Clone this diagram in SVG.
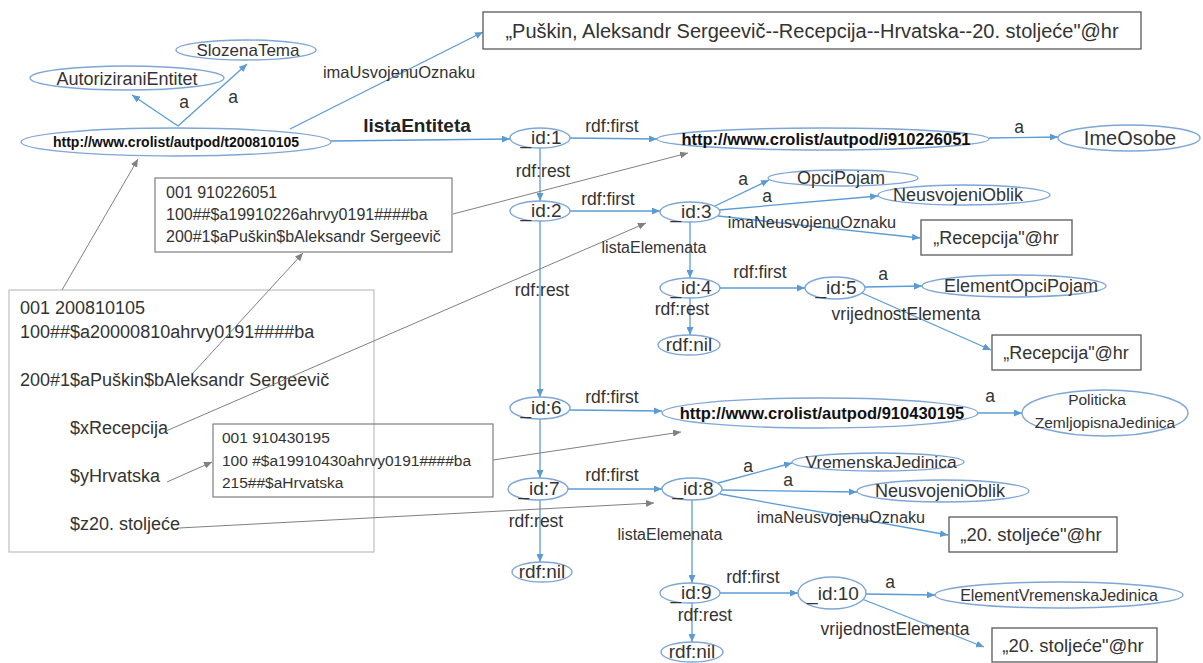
<svg xmlns="http://www.w3.org/2000/svg" width="1203" height="663" viewBox="0 0 1203 663">
<style>
text{font-family:"Liberation Sans",Arial,sans-serif;fill:#333;}
.n{fill:#fff;stroke:#7ea6d6;stroke-width:1.4;}
.b{fill:#fff;stroke:#595959;stroke-width:1.3;}
.r{fill:none;stroke:#7f7f7f;stroke-width:1.2;}
.g{fill:none;stroke:#bfbfbf;stroke-width:1.2;}
.e{fill:none;stroke:#5b9bd5;stroke-width:1.3;marker-end:url(#ab);}
.gr{fill:none;stroke:#808080;stroke-width:1;marker-end:url(#ag);}
.t{font-size:18px;text-anchor:middle;}
.id{font-size:19px;text-anchor:middle;}
.u{font-weight:bold;text-anchor:middle;font-size:16.5px;fill:#111;}
.l{font-size:17.5px;text-anchor:middle;}
.m{font-size:18px;}
</style>
<defs>
<marker id="ab" markerWidth="8" markerHeight="7" refX="8" refY="3.5" orient="auto" markerUnits="userSpaceOnUse"><path d="M0,0 L8,3.5 L0,7 z" fill="#5b9bd5"/></marker>
<marker id="ag" markerWidth="8" markerHeight="7" refX="8" refY="3.5" orient="auto" markerUnits="userSpaceOnUse"><path d="M0,0 L8,3.5 L0,7 z" fill="#808080"/></marker>
</defs>

<g id="record-main">
<rect class="g" x="9" y="290" width="365" height="262"/>
<text class="m" x="20" y="314">001 200810105</text>
<text class="m" x="20" y="338">100##$a20000810ahrvy0191####ba</text>
<text class="m" x="20" y="386">200#1$aPuškin$bAleksandr  Sergeevič</text>
<text class="m" x="70" y="434">$xRecepcija</text>
<text class="m" x="70" y="482">$yHrvatska</text>
<text class="m" x="70" y="530">$z20. stoljeće</text>
</g>
<g id="record-910226051">
<rect class="r" x="155" y="178" width="297" height="74"/>
<text x="166" y="198" style="font-size:16px">001 910226051</text>
<text x="166" y="220" style="font-size:16px">100##$a19910226ahrvy0191####ba</text>
<text x="166" y="242" style="font-size:16px">200#1$aPuškin$bAleksandr Sergeevič</text>
</g>
<g id="record-910430195">
<rect class="r" x="213" y="424" width="280" height="73"/>
<text x="222" y="443" style="font-size:15.5px">001 910430195</text>
<text x="222" y="466" style="font-size:15.5px">100 #$a19910430ahrvy0191####ba</text>
<text x="222" y="488" style="font-size:15.5px">215##$aHrvatska</text>
</g>

<g id="connectors">
<line class="e" x1="178" y1="126" x2="132" y2="95"/>
<line class="e" x1="178" y1="126" x2="247" y2="64"/>
<line class="e" x1="290" y1="129" x2="483" y2="32"/>
<line class="e" x1="331" y1="141" x2="510" y2="139"/>
<line class="e" x1="570" y1="138" x2="657" y2="139"/>
<line class="e" x1="989" y1="138" x2="1058" y2="137"/>
<line class="e" x1="540" y1="148" x2="540" y2="201"/>
<line class="e" x1="570" y1="211" x2="660" y2="211"/>
<line class="e" x1="715" y1="206" x2="769" y2="180"/>
<line class="e" x1="719" y1="210" x2="878" y2="196"/>
<line class="e" x1="718" y1="216" x2="920" y2="238"/>
<line class="e" x1="690" y1="222" x2="690" y2="278"/>
<line class="e" x1="720" y1="288" x2="805" y2="288"/>
<line class="e" x1="865" y1="287" x2="922" y2="286"/>
<line class="e" x1="862" y1="293" x2="991" y2="350"/>
<line class="e" x1="690" y1="298" x2="690" y2="335"/>
<line class="e" x1="540" y1="221" x2="540" y2="397"/>
<line class="e" x1="570" y1="410" x2="662" y2="411"/>
<line class="e" x1="978" y1="413" x2="1022" y2="413"/>
<line class="e" x1="540" y1="419" x2="540" y2="478"/>
<line class="e" x1="568" y1="489" x2="662" y2="489"/>
<line class="e" x1="718" y1="483" x2="792" y2="463"/>
<line class="e" x1="722" y1="490" x2="857" y2="492"/>
<line class="e" x1="720" y1="494" x2="948" y2="535"/>
<line class="e" x1="692" y1="500" x2="692" y2="583"/>
<line class="e" x1="540" y1="500" x2="540" y2="562"/>
<line class="e" x1="720" y1="593" x2="798" y2="593"/>
<line class="e" x1="866" y1="594" x2="935" y2="595"/>
<line class="e" x1="862" y1="599" x2="984" y2="647"/>
<line class="e" x1="692" y1="603" x2="692" y2="642"/>

<line class="gr" x1="62" y1="290" x2="138" y2="159"/>
<line class="gr" x1="193" y1="373" x2="303" y2="253"/>
<line class="gr" x1="453" y1="214" x2="688" y2="153"/>
<line class="gr" x1="166" y1="431" x2="646" y2="223"/>
<line class="gr" x1="167" y1="482" x2="212" y2="462"/>
<line class="gr" x1="493" y1="460" x2="681" y2="432"/>
<line class="gr" x1="179" y1="528" x2="654" y2="503"/>

<text class="l" x="184" y="108">a</text>
<text class="l" x="233" y="103">a</text>
<text class="l" x="399" y="78" style="font-size:16.5px">imaUsvojenuOznaku</text>
<text x="417" y="132" style="font-size:19px;font-weight:bold;text-anchor:middle;fill:#222">listaEntiteta</text>
<text class="l" x="612" y="132">rdf:first</text>
<text class="l" x="1019" y="133">a</text>
<text class="l" x="543" y="177">rdf:rest</text>
<text class="l" x="608" y="205">rdf:first</text>
<text class="l" x="743" y="185">a</text>
<text class="l" x="767" y="202">a</text>
<text class="l" x="812" y="228" style="font-size:16.3px">imaNeusvojenuOznaku</text>
<text class="l" x="654" y="253" style="font-size:16px">listaElemenata</text>
<text class="l" x="760" y="278">rdf:first</text>
<text class="l" x="883" y="280">a</text>
<text class="l" x="906" y="320">vrijednostElementa</text>
<text class="l" x="682" y="315">rdf:rest</text>
<text class="l" x="542" y="296">rdf:rest</text>
<text class="l" x="612" y="403">rdf:first</text>
<text class="l" x="990" y="402">a</text>
<text class="l" x="612" y="481">rdf:first</text>
<text class="l" x="748" y="472">a</text>
<text class="l" x="788" y="486">a</text>
<text class="l" x="841" y="523" style="font-size:16.3px">imaNeusvojenuOznaku</text>
<text class="l" x="670" y="540" style="font-size:16px">listaElemenata</text>
<text class="l" x="536" y="527">rdf:rest</text>
<text class="l" x="753" y="583">rdf:first</text>
<text class="l" x="890" y="588">a</text>
<text class="l" x="895" y="635">vrijednostElementa</text>
<text class="l" x="705" y="621">rdf:rest</text>
</g>

<g id="t200810105"><ellipse class="n" cx="176" cy="142" rx="155" ry="14"/><text class="u" x="176" y="147" style="font-size:14px">http://www.crolist/autpod/t200810105</text></g>
<g id="AutoriziraniEntitet"><ellipse class="n" cx="127" cy="78" rx="97" ry="12"/><text class="t" x="127" y="85">AutoriziraniEntitet</text></g>
<g id="SlozenaTema"><ellipse class="n" cx="246" cy="50" rx="70" ry="10"/><text class="t" x="248" y="56" style="font-size:17px">SlozenaTema</text></g>
<g id="title"><rect class="b" x="483" y="12" width="658" height="37"/><text x="812" y="38" style="font-size:20px;text-anchor:middle">„Puškin, Aleksandr Sergeevič--Recepcija--Hrvatska--20. stoljeće"@hr</text></g>

<g id="id1"><ellipse class="n" cx="540" cy="138" rx="30" ry="10"/><text class="id" x="541" y="144">_id:1</text></g>
<g id="i910226051"><ellipse class="n" cx="823" cy="139" rx="166" ry="11"/><text class="u" x="826" y="145">http://www.crolist/autpod/i910226051</text></g>
<g id="ImeOsobe"><ellipse class="n" cx="1129" cy="138" rx="71" ry="13"/><text class="t" x="1130" y="145" style="font-size:20px">ImeOsobe</text></g>
<g id="id2"><ellipse class="n" cx="540" cy="211" rx="30" ry="10"/><text class="id" x="541" y="217">_id:2</text></g>
<g id="id3"><ellipse class="n" cx="690" cy="212" rx="30" ry="10"/><text class="id" x="691" y="218">_id:3</text></g>
<g id="OpciPojam"><ellipse class="n" cx="843" cy="178" rx="75" ry="8"/><text class="t" x="841" y="184">OpciPojam</text></g>
<g id="NeusvojeniOblik1"><ellipse class="n" cx="964" cy="195" rx="86" ry="10"/><text class="t" x="958" y="201">NeusvojeniOblik</text></g>
<g id="Recepcija1"><rect class="b" x="921" y="220" width="151" height="35"/><text class="t" x="996" y="244">„Recepcija"@hr</text></g>
<g id="id4"><ellipse class="n" cx="690" cy="288" rx="30" ry="10"/><text class="id" x="691" y="294">_id:4</text></g>
<g id="id5"><ellipse class="n" cx="835" cy="288" rx="30" ry="11"/><text class="id" x="836" y="294">_id:5</text></g>
<g id="ElementOpciPojam"><ellipse class="n" cx="1014" cy="286" rx="92" ry="11"/><text class="t" x="1021" y="292">ElementOpciPojam</text></g>
<g id="Recepcija2"><rect class="b" x="992" y="335" width="149" height="35"/><text class="t" x="1066" y="359">„Recepcija"@hr</text></g>
<g id="nil1"><ellipse class="n" cx="689" cy="345" rx="31" ry="10"/><text class="id" x="689" y="351">rdf:nil</text></g>
<g id="id6"><ellipse class="n" cx="540" cy="408" rx="30" ry="11"/><text class="id" x="541" y="414">_id:6</text></g>
<g id="i910430195"><ellipse class="n" cx="820" cy="413" rx="158" ry="15"/><text class="u" x="822" y="419">http://www.crolist/autpod/910430195</text></g>
<g id="Politicka"><ellipse class="n" cx="1105" cy="413" rx="83" ry="23"/><text class="t" x="1097" y="405" style="font-size:15.5px">Politicka</text><text class="t" x="1105" y="428" style="font-size:15.5px">ZemljopisnaJedinica</text></g>
<g id="id7"><ellipse class="n" cx="538" cy="489" rx="30" ry="11"/><text class="id" x="539" y="495">_id:7</text></g>
<g id="id8"><ellipse class="n" cx="692" cy="489" rx="30" ry="11"/><text class="id" x="693" y="495">_id:8</text></g>
<g id="VremenskaJedinica"><ellipse class="n" cx="878" cy="462" rx="86" ry="9"/><text class="t" x="881" y="468" style="font-size:17.4px">VremenskaJedinica</text></g>
<g id="NeusvojeniOblik2"><ellipse class="n" cx="943" cy="491" rx="86" ry="11"/><text class="t" x="940" y="497">NeusvojeniOblik</text></g>
<g id="stoljece1"><rect class="b" x="949" y="517" width="168" height="35"/><text class="t" x="1031" y="541" style="font-size:18.5px">„20. stoljeće"@hr</text></g>
<g id="nil2"><ellipse class="n" cx="542" cy="572" rx="30" ry="10"/><text class="id" x="542" y="578">rdf:nil</text></g>
<g id="id9"><ellipse class="n" cx="690" cy="593" rx="30" ry="10"/><text class="id" x="691" y="599">_id:9</text></g>
<g id="id10"><ellipse class="n" cx="832" cy="593" rx="34" ry="16"/><text class="id" x="833" y="600">_id:10</text></g>
<g id="ElementVremenskaJedinica"><ellipse class="n" cx="1059" cy="595" rx="124" ry="13"/><text class="t" x="1059" y="601" style="font-size:16px">ElementVremenskaJedinica</text></g>
<g id="stoljece2"><rect class="b" x="992" y="628" width="165" height="34"/><text class="t" x="1073" y="652" style="font-size:18.5px">„20. stoljeće"@hr</text></g>
<g id="nil3"><ellipse class="n" cx="692" cy="652" rx="31" ry="10"/><text class="id" x="692" y="658">rdf:nil</text></g>
</svg>
